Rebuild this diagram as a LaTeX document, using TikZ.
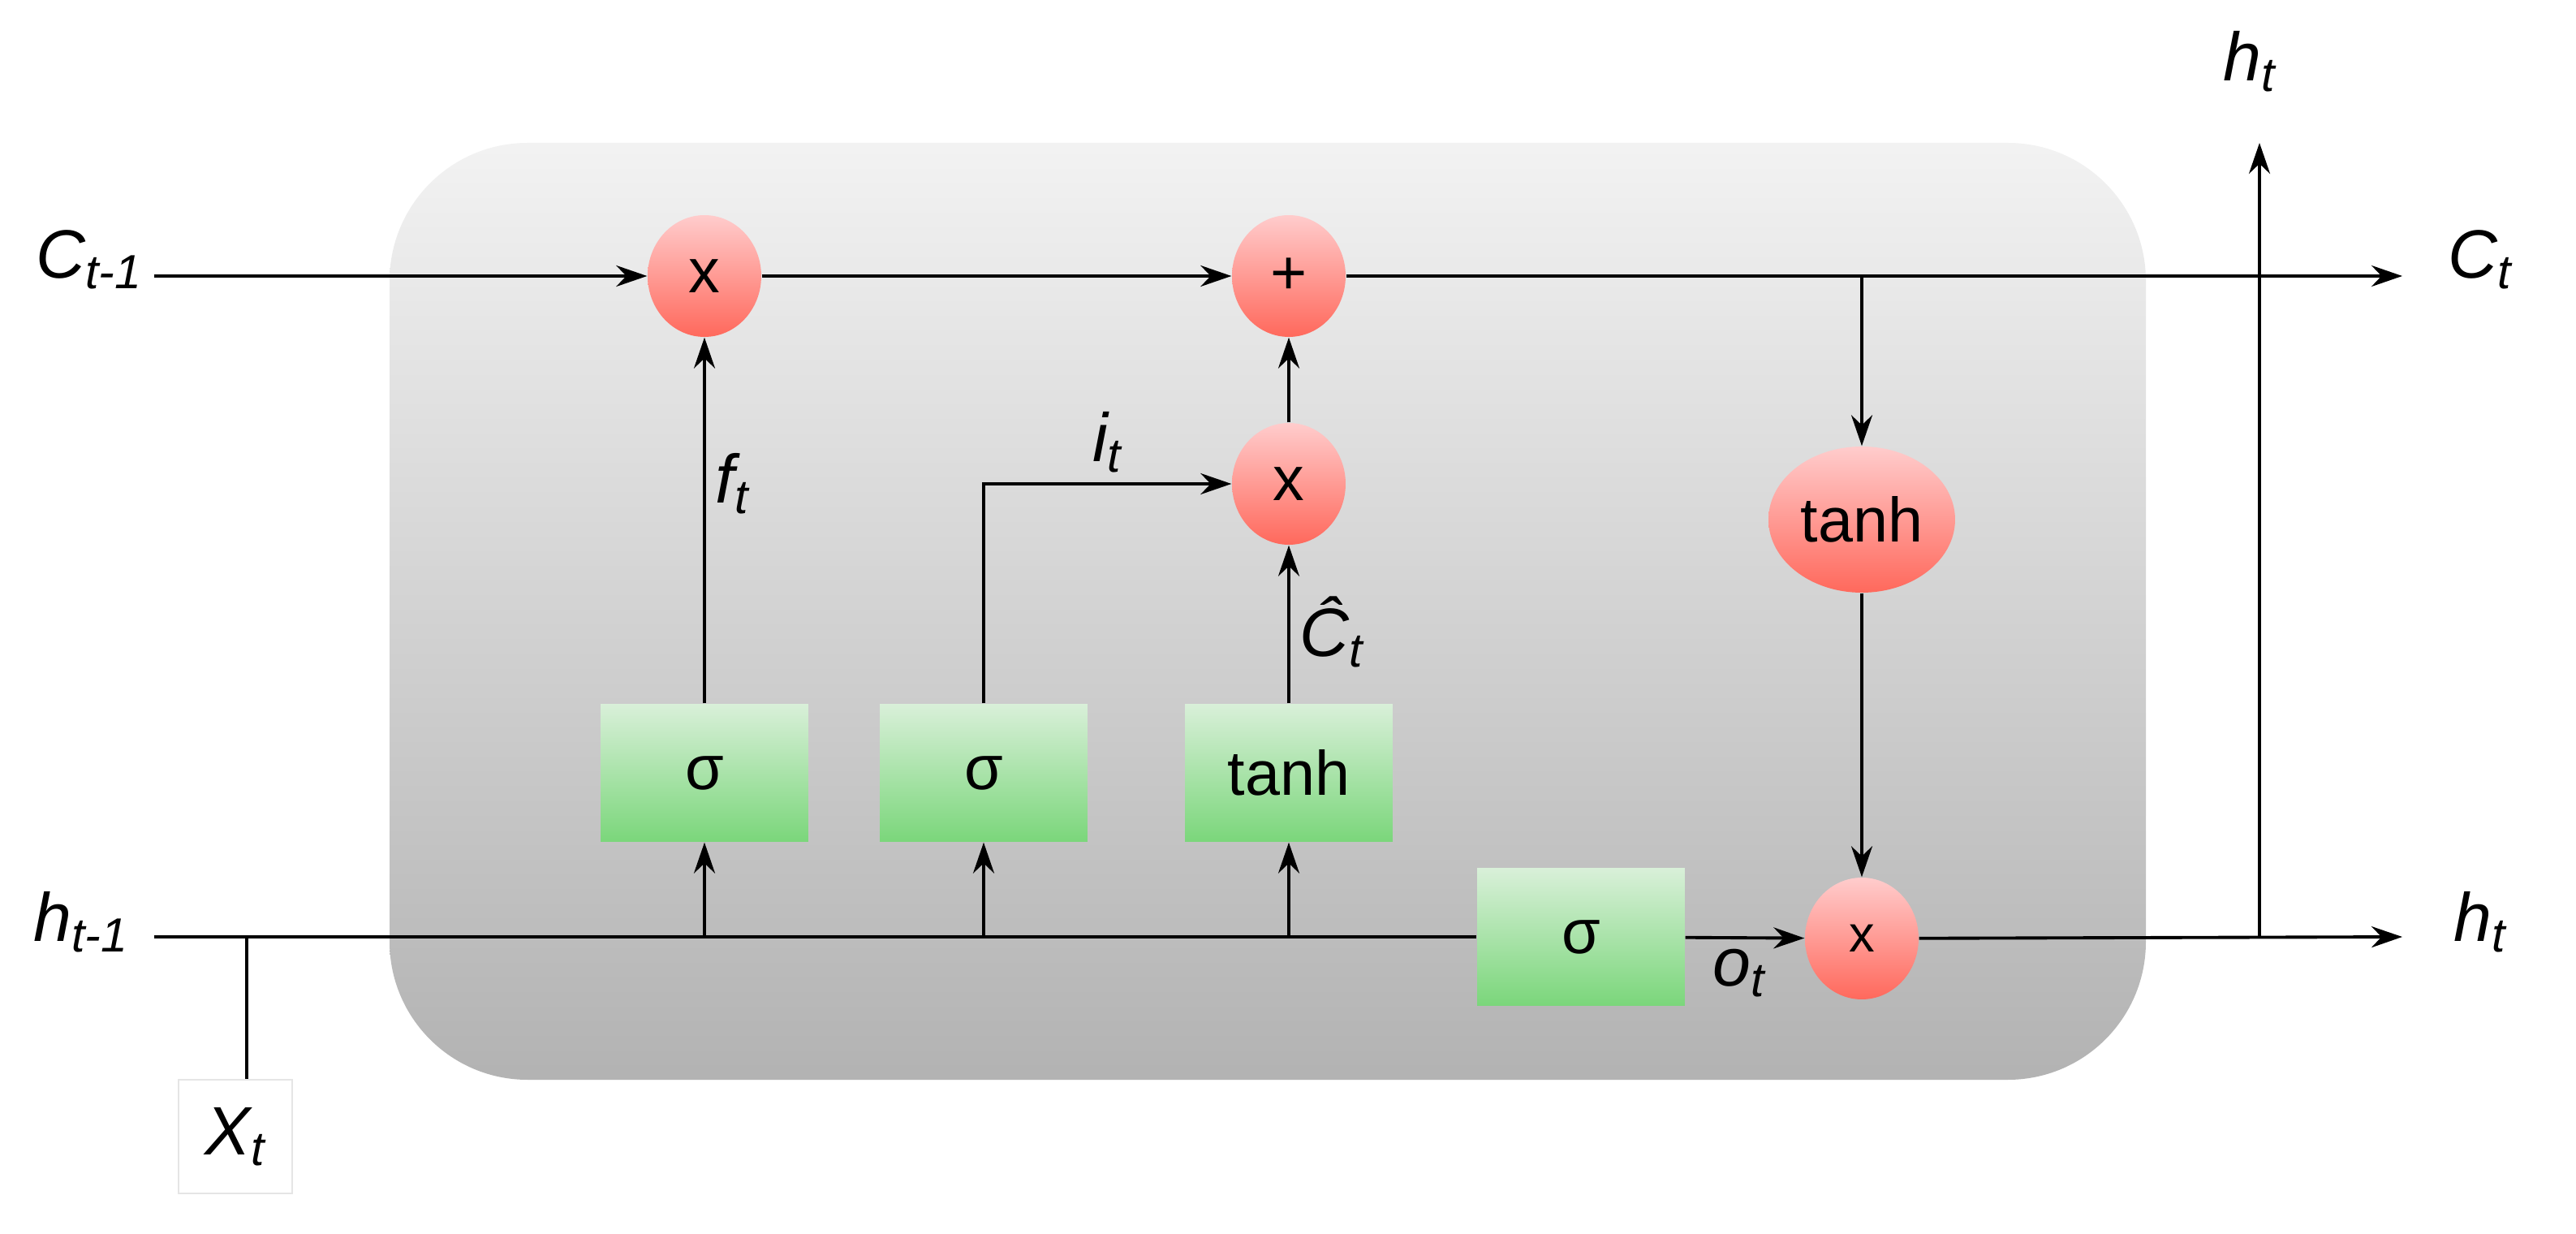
\documentclass[tikz,border=0pt]{standalone}
\usepackage{fontspec}
\setmainfont{Liberation Sans}
\usetikzlibrary{arrows.meta,shapes.geometric}
\tikzset{
  op/.style={ellipse,minimum width=1.4cm,minimum height=1.5cm,inner sep=0pt,top color=red!20!white,bottom color=red!60!white!90!orange,font=\fontsize{22}{24}\selectfont},
  gate/.style={rectangle,minimum width=2.56cm,minimum height=1.7cm,inner sep=0pt,top color=green!60!black!15!white,bottom color=green!50!black!40!white!80!green,font=\fontsize{22}{24}\selectfont},
  lab/.style={font=\fontsize{24}{26}\selectfont\itshape},
  arr/.style={-{Stealth[length=0.38cm,width=0.26cm]},line width=1.1pt},
  ln/.style={line width=1.1pt}
}
\newcommand{\sbs}[2]{#1\textsubscript{#2}}
\begin{document}
\begin{tikzpicture}[x=0.02cm,y=-0.02cm]
        \useasboundingbox (0,0) rectangle (1587,760);
        \shade[top color=gray!10,bottom color=gray!60,rounded corners=1.7cm] (240,88) rectangle (1322,665);
        % inputs and outputs
        \node[lab] (Cin) at (55,160) {\sbs{C}{t-1}};
        \node[lab] (hin) at (50,568) {\sbs{h}{t-1}};
        \node[lab] (Cout) at (1528,160) {\sbs{C}{t}};
        \node[lab] (hout) at (1528,568) {\sbs{h}{t}};
        \node[lab] (htop) at (1386,38) {\sbs{h}{t}};
        \node[lab,draw=gray!20,fill=white,minimum width=1.4cm,minimum height=1.4cm,inner sep=0pt] (X) at (145,700) {\sbs{X}{t}};
        \coordinate (Cs) at (95,170);
        \coordinate (hs) at (95,577);
        \coordinate (Ce) at (1480,170);
        \coordinate (he) at (1480,577);
        \coordinate (hu) at (1392,88);
        \coordinate (hj) at (1392,577);
        \coordinate (Xj) at (152,577);
        \coordinate (Tj) at (1147,170);
        % operations
        \node[op] (mf) at (434,170) {x};
        \node[op] (add) at (794,170) {+};
        \node[op] (mi) at (794,298) {x};
        \node[op,minimum width=2.3cm,minimum height=1.8cm] (th) at (1147,320) {tanh};
        \node[op,font=\fontsize{18}{20}\selectfont] (mo) at (1147,578) {x};
        % gates
        \node[gate] (gf) at (434,476) {σ};
        \node[gate] (gi) at (606,476) {σ};
        \node[gate] (gc) at (794,476) {tanh};
        \node[gate] (go) at (974,577) {σ};
        % cell state
        \draw[arr] (Cs)--(mf);
        \draw[arr] (mf)--(add);
        \draw[arr] (add)--(Ce);
        \draw[arr] (Tj)--(th);
        \draw[arr] (th)--(mo);
        % hidden state
        \draw[ln] (hs)--(go);
        \draw[ln] (Xj)--(Xj|-X.north);
        \draw[arr] (go)--node[lab,below,pos=0.45]{\sbs{o}{t}} (mo);
        \draw[arr] (mo)--(he);
        \draw[arr] (hj)--(hu);
        \draw[arr] (gf.south|-hs)--(gf);
        \draw[arr] (gi.south|-hs)--(gi);
        \draw[arr] (gc.south|-hs)--(gc);
        % gate outputs
        \draw[arr] (gf)--node[lab,right,pos=0.6]{\sbs{f}{t}} (mf);
        \draw[arr] (gi.north)|-node[lab,above,pos=0.75]{\sbs{i}{t}} (mi);
        \draw[arr] (gc)--node[lab,right,pos=0.45]{\sbs{\^{C}}{t}} (mi);
        \draw[arr] (mi)--(add);
    \end{tikzpicture}
\end{document}
